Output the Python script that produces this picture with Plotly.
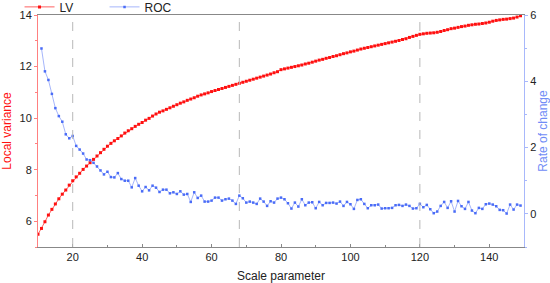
import plotly.graph_objects as go

scale_lv = list(range(10, 150))
lv = [5.49, 5.72, 5.98, 6.24, 6.46, 6.67, 6.87, 7.05, 7.21, 7.40,
      7.57, 7.72, 7.86, 8.01, 8.14, 8.27, 8.40, 8.53, 8.66, 8.79,
      8.91, 9.02, 9.12, 9.21, 9.31, 9.42, 9.51, 9.59, 9.68, 9.76,
      9.83, 9.92, 9.99, 10.08, 10.16, 10.23, 10.28, 10.34, 10.40, 10.46,
      10.52, 10.58, 10.63, 10.69, 10.74, 10.79, 10.85, 10.90, 10.94, 10.98,
      11.03, 11.07, 11.11, 11.15, 11.19, 11.23, 11.27, 11.31, 11.35, 11.39,
      11.43, 11.47, 11.51, 11.55, 11.59, 11.63, 11.67, 11.71, 11.76, 11.80,
      11.88, 11.91, 11.94, 11.97, 12.00, 12.03, 12.06, 12.10, 12.13, 12.17,
      12.21, 12.25, 12.28, 12.32, 12.35, 12.39, 12.42, 12.46, 12.50, 12.53,
      12.57, 12.60, 12.64, 12.68, 12.71, 12.74, 12.77, 12.80, 12.83, 12.86,
      12.89, 12.92, 12.95, 12.98, 13.01, 13.05, 13.08, 13.13, 13.17, 13.21,
      13.25, 13.27, 13.29, 13.30, 13.31, 13.33, 13.36, 13.40, 13.43, 13.47,
      13.49, 13.52, 13.55, 13.57, 13.60, 13.62, 13.64, 13.65, 13.67, 13.69,
      13.72, 13.76, 13.79, 13.81, 13.83, 13.84, 13.86, 13.88, 13.92, 13.97]

scale_roc = list(range(11, 150))
roc = [4.99, 4.30, 4.04, 3.62, 3.19, 2.95, 2.78, 2.40, 2.28, 2.35,
       2.05, 1.94, 1.82, 1.64, 1.62, 1.54, 1.43, 1.31, 1.19, 1.27,
       1.11, 1.10, 1.23, 1.05, 1.00, 1.00, 0.80, 1.08, 0.85, 0.68,
       0.81, 0.71, 0.85, 0.79, 0.66, 0.73, 0.73, 0.62, 0.65, 0.60,
       0.68, 0.58, 0.60, 0.36, 0.65, 0.48, 0.55, 0.37, 0.37, 0.40,
       0.49, 0.49, 0.40, 0.44, 0.46, 0.40, 0.30, 0.55, 0.47, 0.34,
       0.37, 0.34, 0.30, 0.46, 0.37, 0.24, 0.38, 0.34, 0.46, 0.49,
       0.44, 0.32, 0.16, 0.34, 0.22, 0.44, 0.26, 0.34, 0.35, 0.17,
       0.36, 0.26, 0.33, 0.33, 0.34, 0.31, 0.37, 0.24, 0.36, 0.29,
       0.15, 0.42, 0.44, 0.30, 0.17, 0.26, 0.26, 0.28, 0.16, 0.17,
       0.17, 0.18, 0.26, 0.27, 0.24, 0.28, 0.24, 0.16, 0.17, 0.30,
       0.20, 0.27, 0.14, 0.02, 0.07, 0.24, 0.36, 0.18, 0.38, 0.07,
       0.39, 0.23, 0.15, 0.36, 0.10, 0.02, 0.18, 0.15, 0.29, 0.31,
       0.28, 0.23, 0.12, 0.11, 0.01, 0.28, 0.13, 0.28, 0.25]

ref_lines = [20, 68, 120]

RED = "#ff1010"
BLUE = "#4a6cf7"
BLUE_LINE = "#a6b6fb"
FONT = "Arial, Liberation Sans, sans-serif"

fig = go.Figure()
fig.add_trace(go.Scatter(x=scale_lv, y=lv, name="LV", mode="lines+markers",
                         line=dict(color="#ff6060", width=1),
                         marker=dict(color=RED, size=3, symbol="square"),
                         yaxis="y"))
fig.add_trace(go.Scatter(x=scale_roc, y=roc, name="ROC", mode="lines+markers",
                         line=dict(color=BLUE_LINE, width=1),
                         marker=dict(color=BLUE, size=2.5, symbol="square"),
                         yaxis="y2"))

for xv in ref_lines:
    fig.add_vline(x=xv, line=dict(color="#b8b8b8", width=1, dash="dash"))

fig.update_layout(
    width=550, height=283,
    margin=dict(l=38, r=26, t=15, b=36, autoexpand=False),
    paper_bgcolor="white", plot_bgcolor="white",
    font=dict(family=FONT, size=11, color="#222"),
    showlegend=True,
    legend=dict(orientation="h", x=-0.038, xref="paper", y=1.035, yref="paper",
                yanchor="middle", xanchor="left",
                font=dict(size=12, color="#222"), entrywidth=40,
                bgcolor="rgba(0,0,0,0)", tracegroupgap=0),
    xaxis=dict(range=[10, 150], tickvals=[20, 40, 60, 80, 100, 120, 140], automargin=False,
               showgrid=False, zeroline=False, showline=True, linecolor="#888",
               linewidth=1, mirror=True, ticks="inside", ticklen=3, tickcolor="#888",
               minor=dict(ticks="inside", tickvals=[30, 50, 70, 90, 110, 130], ticklen=2, tickcolor="#888"),
               title=dict(text="Scale parameter", font=dict(size=12, color="#222"), standoff=10)),
    yaxis=dict(range=[5, 14], tickvals=[6, 8, 10, 12, 14], showgrid=False, zeroline=False,
               automargin=False,
               showline=True, linecolor="#ff8080", linewidth=1, ticks="outside", ticklen=3,
               tickcolor="#ff8080",
               minor=dict(ticks="outside", tickvals=[5, 7, 9, 11, 13], ticklen=2, tickcolor="#ff8080"),
               title=dict(text="Local variance", font=dict(size=12, color=RED), standoff=6)),
    yaxis2=dict(range=[-1, 6], tickvals=[0, 2, 4, 6], overlaying="y", side="right",
                automargin=False,
                showgrid=False, zeroline=False, showline=True, linecolor="#a8b8fb",
                linewidth=1, ticks="outside", ticklen=3, tickcolor="#a8b8fb",
                minor=dict(ticks="outside", tickvals=[-1, 1, 3, 5], ticklen=2, tickcolor="#a8b8fb"),
                title=dict(text="Rate of change", font=dict(size=12, color="#6f8cf6"), standoff=6)),
)

fig.write_html("out.html")
